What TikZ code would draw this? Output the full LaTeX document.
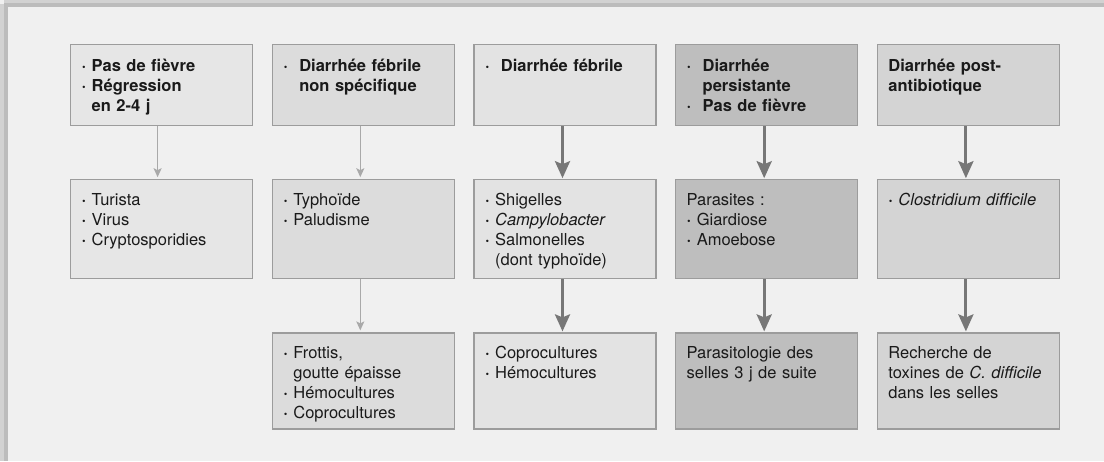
\documentclass[tikz,border=0pt]{standalone}
\usepackage{fontspec}
\setmainfont{TeX Gyre Heros}
\usetikzlibrary{positioning, arrows.meta}

\definecolor{pagebg}{HTML}{F0F0F0}
\definecolor{edgeA}{HTML}{D2D2D2}
\definecolor{edgeB}{HTML}{BCBCBC}
\definecolor{boxline}{HTML}{9C9C9C}
\definecolor{txt}{HTML}{1A1A1A}
\definecolor{fillA}{HTML}{E6E6E6}
\definecolor{fillB}{HTML}{DCDCDC}
\definecolor{fillC}{HTML}{E3E3E3}
\definecolor{fillD}{HTML}{BEBEBE}
\definecolor{fillE}{HTML}{D4D4D4}
\definecolor{liteline}{HTML}{A9A9A9}
\definecolor{heavyline}{HTML}{777777}

\newcommand{\bl}{{\bfseries·}\ }
\newcommand{\wbl}{\makebox[16pt][l]{·}}

\begin{document}
\begin{tikzpicture}[x=1pt, y=1pt, node distance=53pt and 18.5pt]
                \tikzset{
                    box/.style={draw=boxline, line width=1.2pt, text=txt, text width=160pt,
                        inner xsep=11pt, inner ysep=0pt, align=left,
                        font=\fontsize{16.5}{20}\selectfont},
                    rowone/.style={box, font=\fontsize{16.5}{20}\selectfont\bfseries,
                        text height=27pt, text depth=54pt},
                    rowtwo/.style={box, text height=26pt, text depth=73pt},
                    rowthree/.style={box, text height=25pt, text depth=71pt},
                    lite/.style={draw=liteline, line width=1.3pt, shorten >=2pt,
                        -{Stealth[length=9pt, width=8pt, inset=2pt]}},
                    heavy/.style={draw=heavyline, line width=3pt, shorten >=1pt,
                        -{Stealth[length=17pt, width=15pt, inset=3pt]}}
                }

                % FRAME
                \useasboundingbox (0,0) rectangle (1104,-461);
                \fill[pagebg] (0,0) rectangle (1104,-461);
                \fill[edgeA] (0,-4) rectangle (4,-461);
                \fill[edgeB] (4,-3) rectangle (8,-461);
                \fill[edgeA] (4,0) rectangle (1104,-3);
                \fill[edgeB] (4,-3) rectangle (1104,-7);

                % SIGNS
                \node[rowone, fill=fillA, anchor=north west] (s1) at (70,-44)
                    {\bl Pas de fièvre\\\bl Régression\\\hphantom{\bl}en 2-4 j};
                \node[rowone, fill=fillB] (s2) [right=of s1]
                    {\wbl Diarrhée fébrile\\\hphantom{\wbl}non spécifique};
                \node[rowone, fill=fillC] (s3) [right=of s2]
                    {\wbl Diarrhée fébrile};
                \node[rowone, fill=fillD] (s4) [right=of s3]
                    {\wbl Diarrhée\\\hphantom{\wbl}persistante\\\wbl Pas de fièvre};
                \node[rowone, fill=fillE] (s5) [right=of s4]
                    {Diarrhée post-\\antibiotique};

                % GERMS
                \node[rowtwo, fill=fillA] (g1) [below=of s1]
                    {\bl Turista\\\bl Virus\\\bl Cryptosporidies};
                \node[rowtwo, fill=fillB] (g2) [below=of s2]
                    {\bl Typhoïde\\\bl Paludisme};
                \node[rowtwo, fill=fillC] (g3) [below=of s3]
                    {\bl Shigelles\\\bl\textit{Campylobacter}\\\bl Salmonelles\\\hphantom{\bl}(dont typhoïde)};
                \node[rowtwo, fill=fillD] (g4) [below=of s4]
                    {Parasites :\\\bl Giardiose\\\bl Amoebose};
                \node[rowtwo, fill=fillE] (g5) [below=of s5]
                    {\bl\textit{Clostridium difficile}};

                % EXAMS
                \node[rowthree, fill=fillB] (x2) [below=of g2]
                    {\bl Frottis,\\\hphantom{\bl}goutte épaisse\\\bl Hémocultures\\\bl Coprocultures};
                \node[rowthree, fill=fillC] (x3) [below=of g3]
                    {\bl Coprocultures\\\bl Hémocultures};
                \node[rowthree, fill=fillD] (x4) [below=of g4]
                    {Parasitologie des\\selles 3 j de suite};
                \node[rowthree, fill=fillE] (x5) [below=of g5]
                    {Recherche de\\toxines de \textit{C. difficile}\\dans les selles};

                % ARROWS
                \draw[lite] ([xshift=-4pt]s1.south) -- ([xshift=-4pt]g1.north);
                \draw[lite] ([xshift=-3pt]s2.south) -- ([xshift=-3pt]g2.north);
                \draw[lite] ([xshift=-3pt]g2.south) -- ([xshift=-3pt]x2.north);
                \foreach \c in {3,4,5} {
                    \draw[heavy] ([xshift=-2.5pt]s\c.south) -- ([xshift=-2.5pt]g\c.north);
                    \draw[heavy] ([xshift=-2.5pt]g\c.south) -- ([xshift=-2.5pt]x\c.north);
                }

            \end{tikzpicture}
\end{document}
